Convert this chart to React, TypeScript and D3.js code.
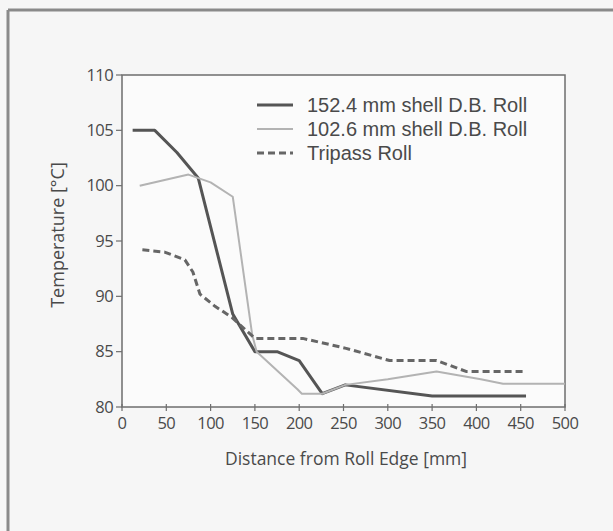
import React from "react";
import * as d3 from "d3";

const xTicks = [0, 50, 100, 150, 200, 250, 300, 350, 400, 450, 500];
const yTicks = [80, 85, 90, 95, 100, 105, 110];

const seriesNames = ["152.4 mm shell D.B. Roll", "102.6 mm shell D.B. Roll", "Tripass Roll"];

const shell152: [number, number][] = [
  [12, 105], [37, 105], [62, 103], [86, 100.7], [125, 88.4], [150, 85], [175, 85],
  [200, 84.2], [226, 81.2], [252, 82], [350, 81], [456, 81],
];
const shell102: [number, number][] = [
  [20, 100], [75, 101], [100, 100.3], [125, 99], [147, 86.5], [152, 85], [198, 81.6],
  [203, 81.2], [226, 81.2], [252, 82], [300, 82.5], [355, 83.2], [405, 82.5], [430, 82.1], [500, 82.1],
];
const tripass: [number, number][] = [
  [23, 94.2], [48, 94], [71, 93.3], [80, 92.2], [88, 90.2], [105, 89.1], [124, 88.1],
  [150, 86.2], [204, 86.2], [253, 85.3], [302, 84.2], [355, 84.2], [389, 83.2], [455, 83.2],
];

export default function App() {
  const W = 613, H = 531;
  const x = d3.scaleLinear().domain([0, 500]).range([122, 565]);
  const y = d3.scaleLinear().domain([80, 110]).range([407, 75]);
  const line = d3.line<[number, number]>().x(d => x(d[0])).y(d => y(d[1]));
  const font = "'Open Sans', sans-serif";
  const legendFont = "'Liberation Sans', Arial, sans-serif";
  const txt = "#4a4a4a";
  const axisCol = "#6e6e6e";
  const legendY = [105, 129, 153];
  const styles = [
    { stroke: "#555", width: 3, dash: "" },
    { stroke: "#b3b3b3", width: 2, dash: "" },
    { stroke: "#666", width: 3, dash: "7,4" },
  ];
  const data = [shell152, shell102, tripass];
  return (
    <svg width={W} height={H} style={{ position: "absolute", left: 0, top: 0, background: "#f6f6f6" }}>
      <rect x={0} y={0} width={W} height={H} fill="#f6f6f6" />
      <line x1={8} y1={10} x2={W} y2={10} stroke="#8a8a8a" strokeWidth={3} />
      <line x1={8} y1={10} x2={8} y2={H} stroke="#8a8a8a" strokeWidth={3} />
      <rect x={x(0)} y={y(110)} width={x(500) - x(0)} height={y(80) - y(110)} fill="#fbfbfb" stroke={axisCol} strokeWidth={1.5} />
      {yTicks.map(t => (
        <g key={"y" + t}>
          <line x1={x(0) - 6} x2={x(0)} y1={y(t)} y2={y(t)} stroke={axisCol} strokeWidth={1.2} />
          <text x={x(0) - 9} y={y(t)} dy="0.35em" textAnchor="end" fontFamily={font} fontSize={16.5} fill={txt} letterSpacing={-0.6}>{t}</text>
        </g>
      ))}
      {xTicks.map(t => (
        <g key={"x" + t}>
          <line x1={x(t)} x2={x(t)} y1={y(80) - 3} y2={y(80) + 4} stroke={axisCol} strokeWidth={1.2} />
          <text x={x(t)} y={423} dy="0.35em" textAnchor="middle" fontFamily={font} fontSize={16.5} fill={txt} letterSpacing={-0.6}>{t}</text>
        </g>
      ))}
      <text x={346} y={459} dy="0.35em" textAnchor="middle" fontFamily={font} fontSize={17.5} fill={txt}>Distance from Roll Edge [mm]</text>
      <text transform={`translate(58,235) rotate(-90)`} textAnchor="middle" dy="0.35em" fontFamily={font} fontSize={18} fill={txt}>Temperature [°C]</text>
      {data.map((d, i) => (
        <path key={"s" + i} d={line(d) || ""} fill="none" stroke={styles[i].stroke} strokeWidth={styles[i].width} strokeDasharray={styles[i].dash} strokeLinejoin="round" />
      ))}
      {seriesNames.map((n, i) => (
        <g key={"l" + i}>
          <line x1={257} x2={293} y1={legendY[i]} y2={legendY[i]} stroke={styles[i].stroke} strokeWidth={styles[i].width} strokeDasharray={styles[i].dash} />
          <text x={307} y={legendY[i]} dy="0.35em" fontFamily={legendFont} fontSize={20} fill={txt}>{n}</text>
        </g>
      ))}
    </svg>
  );
}
